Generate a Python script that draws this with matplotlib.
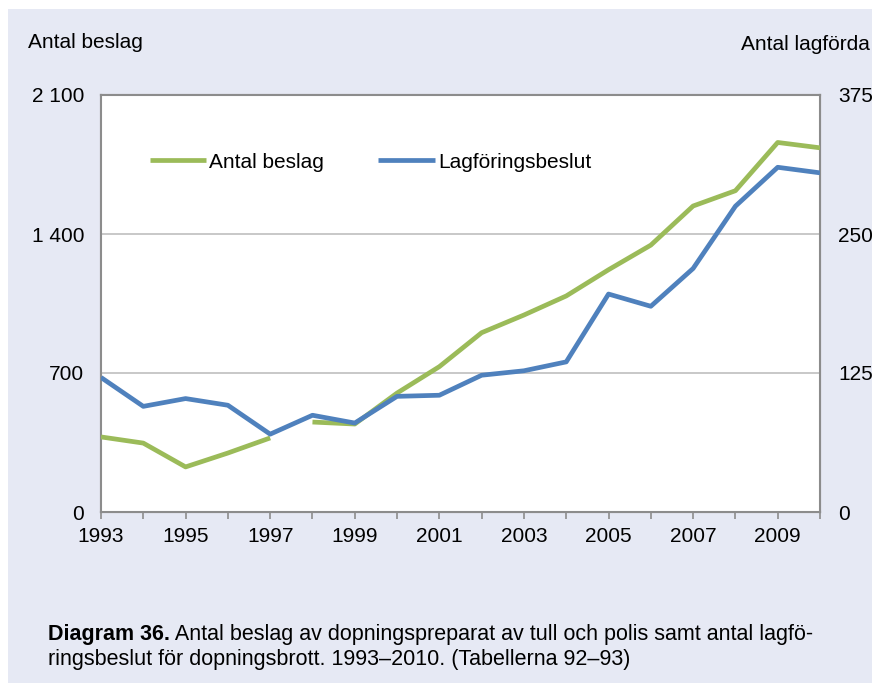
import matplotlib
matplotlib.use("Agg")
import matplotlib.pyplot as plt
from matplotlib.patches import Rectangle
from matplotlib.ticker import FuncFormatter
import numpy as np

plt.rcParams["font.family"] = ["Liberation Sans", "DejaVu Sans"]

years = list(range(1993, 2011))
# seizures (left axis); the series is broken between 1997 and 1998
beslag = [378, 347, 227, 297, 373, 453, 443, 599, 732, 903, 992, 1088,
          1220, 1344, 1541, 1618, 1861, 1834]
beslag_break = 1997
# prosecution decisions (right axis)
lagforing = [121, 95, 102, 96, 70, 87, 80, 104, 105, 123, 127, 135,
             196, 185, 219, 275, 310, 305]

left_ticks = [0, 700, 1400, 2100]
right_ticks = [0, 125, 250, 375]
caption_bold = "Diagram 36."
caption_1 = "Antal beslag av dopningspreparat av tull och polis samt antal lagfö-"
caption_2 = "ringsbeslut för dopningsbrott. 1993–2010. (Tabellerna 92–93)"

GREEN = "#9BBB59"
BLUE = "#4F81BD"
BG = "#E6E9F4"
SPINE = "#8C8C8C"

W, H = 872, 683
fig = plt.figure(figsize=(W / 100, H / 100), dpi=100)
fig.patches.append(Rectangle((8 / W, 0), 1, 1 - 9 / H, transform=fig.transFigure,
                             facecolor=BG, edgecolor="none", zorder=-10))

ax = fig.add_axes([101 / W, 1 - 512 / H, 719 / W, 417 / H])
ax.set_facecolor("white")
ax2 = ax.twinx()
ax.set_zorder(ax2.get_zorder() + 1)
ax.patch.set_visible(True)
ax2.patch.set_visible(False)

yrs = np.array(years)
bes = np.array(beslag, dtype=float)
first = yrs <= beslag_break
ax.plot(yrs[first], bes[first], color=GREEN, lw=3.4, solid_capstyle="butt",
        label="Antal beslag", zorder=3)
ax.plot(yrs[~first], bes[~first], color=GREEN, lw=3.4, solid_capstyle="butt",
        zorder=3)

# blue series drawn on the main axes in left-axis units so it sits above the white patch
scale = left_ticks[-1] / right_ticks[-1]
ax.plot(yrs, np.array(lagforing) * scale, color=BLUE, lw=3.4,
        solid_capstyle="butt", label="Lagföringsbeslut", zorder=4)

ax.set_xlim(1993, 2010)
ax.set_ylim(0, 2100)
ax2.set_ylim(0, 375)
ax.set_yticks(left_ticks)
ax2.set_yticks(right_ticks)
ax.yaxis.set_major_formatter(FuncFormatter(lambda v, p: f"{int(v):,}".replace(",", " ")))

ax.set_xticks(years)
ax.set_xticklabels([str(y) if y % 2 else "" for y in years])

for v in left_ticks[1:-1]:
    ax.axhline(v, color="#BFBFBF", lw=1.2, zorder=1)

for a in (ax, ax2):
    for s in a.spines.values():
        s.set_color(SPINE)
        s.set_linewidth(1.5)
ax.tick_params(axis="y", length=0, pad=12, labelsize=15)
ax2.tick_params(axis="y", length=0, pad=13, labelsize=15)
ax.tick_params(axis="x", length=5, width=1.2, color=SPINE, direction="out",
               pad=6, labelsize=15)

fig.text(28 / W, 1 - 43 / H, "Antal beslag", fontsize=15, ha="left", va="center")
fig.text(870 / W, 1 - 45 / H, "Antal lagförda", fontsize=15, ha="right", va="center")

ax.legend(loc="center left", bbox_to_anchor=(150 / W, 1 - 162 / H),
          bbox_transform=fig.transFigure, ncol=2, frameon=False, fontsize=15,
          handlelength=2.7, handletextpad=0.15, columnspacing=2.6,
          borderpad=0, borderaxespad=0)

# caption below the chart: bold lead-in followed by the regular text
t0 = fig.text(48 / W, 1 - 640 / H, caption_bold, fontsize=15.5, weight="bold",
              ha="left", va="baseline")
ax.annotate(" " + caption_1, xy=(1, 0), xycoords=t0, fontsize=15.5,
            ha="left", va="bottom", annotation_clip=False)
fig.text(48 / W, 1 - 665 / H, caption_2, fontsize=15.5, ha="left",
         va="baseline")

fig.savefig("out.png", dpi=100)
